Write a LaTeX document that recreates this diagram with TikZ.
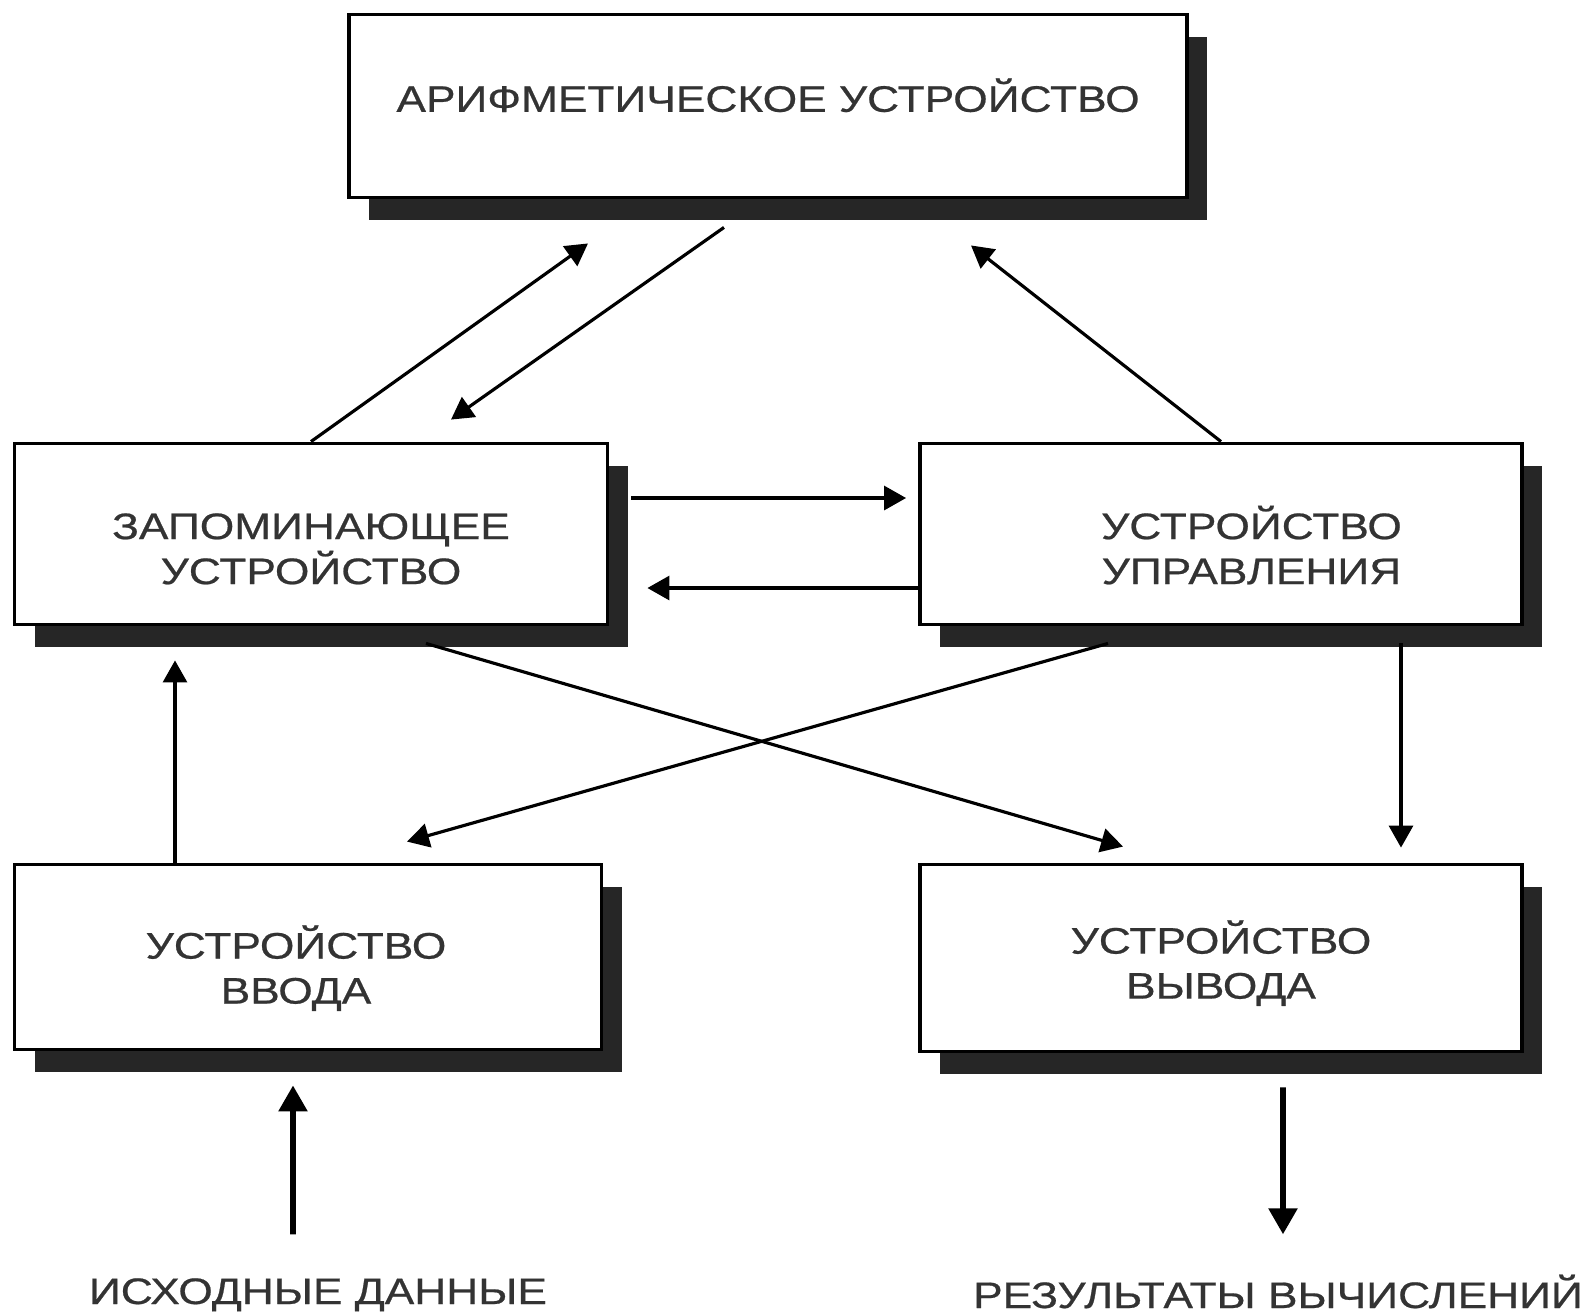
\documentclass[tikz,border=0pt]{standalone}
\usepackage{fontspec}
\setmainfont{Liberation Sans}[FakeStretch=1.2, FakeBold=0.6]
\usetikzlibrary{arrows.meta,shadows}

\begin{document}
\begin{tikzpicture}[x=0.1mm, y=-0.1mm,
    box/.style={draw, line width=1.1pt, fill=white, align=center, text=black!80,
      font=\fontsize{10.5}{12.8}\selectfont, text depth=0pt,
      drop shadow={shadow xshift=2mm, shadow yshift=-2.2mm, fill=black!85, opacity=1}},
    arr/.style={-{Triangle[length=2.2mm,width=2.4mm]}, line width=0.9pt},
    barr/.style={-{Triangle[length=2.6mm,width=2.8mm]}, line width=1.6pt},
    lab/.style={text=black!80, font=\fontsize{10.5}{12.8}\selectfont, inner sep=0pt,
      text height=2.6mm, text depth=0pt, anchor=base}]
    \useasboundingbox (0,0) rectangle (1594,1311);
    \node [box, minimum width=83.8mm, minimum height=18.3mm, text height=3.3pt] (au) at (768,106) {АРИФМЕТИЧЕСКОЕ УСТРОЙСТВО};
    \node [box, minimum width=59.3mm, minimum height=18.1mm, text height=28.5pt] (mem) at (311,534) {ЗАПОМИНАЮЩЕЕ\\УСТРОЙСТВО};
    \node [box, minimum width=60.2mm, minimum height=18.1mm, text height=28.5pt] (cu) at (1221,534) {\hspace*{6.1mm}УСТРОЙСТВО\\\hspace*{6.1mm}УПРАВЛЕНИЯ};
    \node [box, minimum width=58.7mm, minimum height=18.5mm, text height=26.5pt] (inp) at (308,957) {УСТРОЙСТВО\hspace*{2.4mm}\\ВВОДА\hspace*{2.4mm}};
    \node [box, minimum width=60.2mm, minimum height=18.7mm, text height=23.1pt] (out) at (1221,958) {УСТРОЙСТВО\\ВЫВОДА};
    \node [lab] (src) at (318,1304) {ИСХОДНЫЕ ДАННЫЕ};
    \node [lab] (res) at (1278,1308) {РЕЗУЛЬТАТЫ ВЫЧИСЛЕНИЙ};
    \draw [arr] (mem.north) to ([xshift=-18mm,yshift=-4.4mm]au.south);
    \draw [arr] ([xshift=-4.4mm,yshift=-2.8mm]au.south) to ([xshift=14mm,yshift=2.2mm]mem.north);
    \draw [arr] (cu.north) to ([xshift=20.3mm,yshift=-4.6mm]au.south);
    \draw [arr] ([xshift=2.2mm,yshift=3.6mm]mem.east) to ([xshift=-1.2mm,yshift=3.6mm]cu.west);
    \draw [arr] ([yshift=-5.4mm]cu.west) to ([xshift=3.8mm,yshift=-5.4mm]mem.east);
    \draw [arr] ([xshift=11.5mm,yshift=-1.7mm]mem.south) to ([xshift=-9.8mm,yshift=1.6mm]out.north);
    \draw [arr] ([xshift=-11.3mm,yshift=-1.7mm]cu.south) to ([xshift=9.9mm,yshift=2.1mm]inp.north);
    \draw [arr] ([xshift=-13.3mm]inp.north) to ([xshift=-13.6mm,yshift=-3.4mm]mem.south);
    \draw [arr] ([xshift=18mm,yshift=-1.7mm]cu.south) to ([xshift=18mm,yshift=1.5mm]out.north);
    \draw [barr] ([xshift=-2.5mm,yshift=4.3mm]src.north) to ([xshift=-1.5mm,yshift=-3.4mm]inp.south);
    \draw [barr] ([xshift=6.2mm,yshift=-3.4mm]out.south) to ([xshift=0.5mm,yshift=4.7mm]res.north);
\end{tikzpicture}
\end{document}
